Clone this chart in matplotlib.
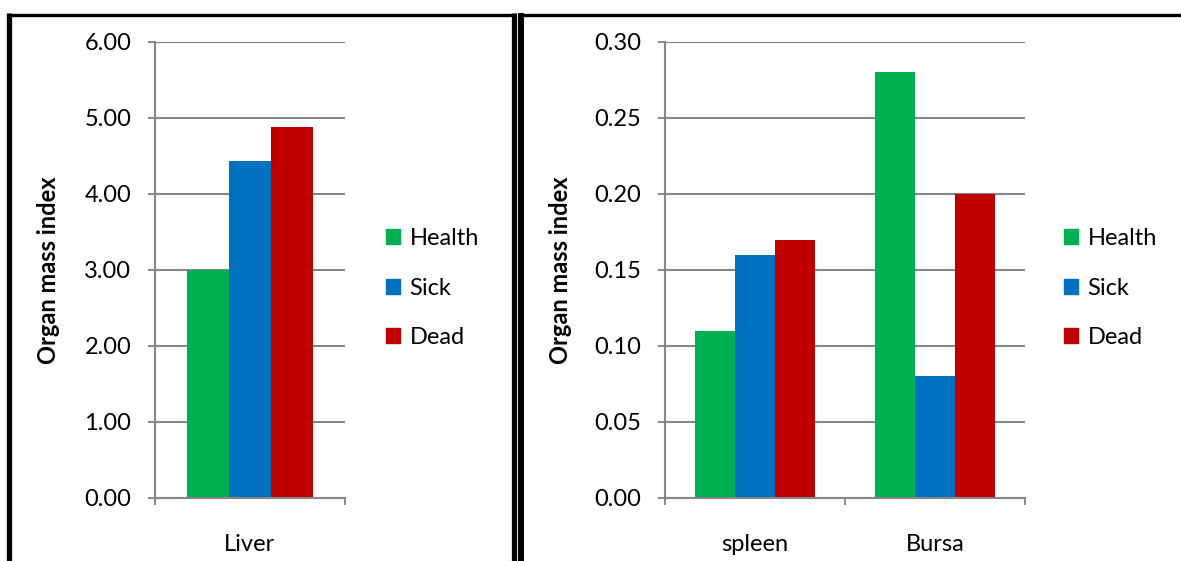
import matplotlib.pyplot as plt
from matplotlib.lines import Line2D
from matplotlib.patches import Patch

# organ mass index per group
groups = ["Health", "Sick", "Dead"]
colors = ["#00b050", "#0070c0", "#c00000"]

liver_organs = ["Liver"]
liver_values = {"Health": [3.00], "Sick": [4.43], "Dead": [4.88]}
liver_ticks = [0, 1, 2, 3, 4, 5, 6]

small_organs = ["spleen", "Bursa"]
small_values = {"Health": [0.11, 0.28], "Sick": [0.16, 0.08], "Dead": [0.17, 0.20]}
small_ticks = [0.00, 0.05, 0.10, 0.15, 0.20, 0.25, 0.30]

plt.rcParams['font.family'] = ['Lato', 'DejaVu Sans']
grid_col = '#868686'
W, H = 1181, 561

fig = plt.figure(figsize=(W / 100, H / 100), dpi=100)


def px(x0, y0, x1, y1):
    # pixel box -> figure fraction rect
    return [x0 / W, 1 - y1 / H, (x1 - x0) / W, (y1 - y0) / H]


def draw_panel(ax, organs, values, ticks, fmt):
    bw = 1 / 4.5
    for i, g in enumerate(groups):
        xs = [k + (i - 1) * bw for k in range(len(organs))]
        ax.bar(xs, values[g], width=bw, color=colors[i], zorder=3)
    ax.set_xlim(-0.5, len(organs) - 0.5)
    ax.set_ylim(ticks[0], ticks[-1])
    ax.set_yticks(ticks)
    ax.set_yticklabels([fmt.format(t) for t in ticks])
    ax.set_xticks(range(len(organs)))
    ax.set_xticklabels(organs)
    # category boundary tick marks on the x axis
    ax.set_xticks([k - 0.5 for k in range(len(organs) + 1)], minor=True)
    ax.tick_params(axis='x', which='major', length=0, pad=26, labelsize=17)
    ax.tick_params(axis='x', which='minor', length=5, width=1.4, color=grid_col)
    ax.tick_params(axis='y', length=5, width=1.4, color=grid_col, pad=12, labelsize=17)
    ax.yaxis.grid(True, color=grid_col, linewidth=1.5, zorder=0)
    for s in ['top', 'right']:
        ax.spines[s].set_visible(False)
    for s in ['left', 'bottom']:
        ax.spines[s].set_color(grid_col)
        ax.spines[s].set_linewidth(1.5)
        ax.spines[s].set_zorder(4)
    ax.set_ylabel("Organ mass index", fontsize=17, fontweight='bold', labelpad=8)


ax1 = fig.add_axes(px(155, 42, 345, 498))
draw_panel(ax1, liver_organs, liver_values, liver_ticks, "{:.2f}")
ax1.yaxis.set_label_coords(-95 / 190, 0.5)

ax2 = fig.add_axes(px(665, 42, 1025, 498))
draw_panel(ax2, small_organs, small_values, small_ticks, "{:.2f}")
ax2.yaxis.set_label_coords(-93 / 360, 0.5)

handles = [Patch(color=c, label=g) for g, c in zip(groups, colors)]
for lx in [386, 1064]:
    fig.legend(handles=handles, loc='center left',
               bbox_to_anchor=(lx / W, 1 - 288 / H), frameon=False,
               fontsize=17, handlelength=0.6, handleheight=0.6,
               handletextpad=0.4, labelspacing=1.2, borderpad=0,
               borderaxespad=0)

# panel frames
def fline(xs, ys, lw):
    fig.add_artist(Line2D([x / W for x in xs], [1 - y / H for y in ys],
                          color='black', linewidth=lw, solid_capstyle='butt'))

fline([9.5, 9.5], [13, H], 3.8)
fline([7, 516], [14.5, 14.5], 2.4)
fline([513.5, 513.5], [13, H], 3.8)
fline([521, 521], [13, H], 4.3)
fline([518, W], [14.5, 14.5], 2.4)

fig.savefig("out.png", dpi=100)
